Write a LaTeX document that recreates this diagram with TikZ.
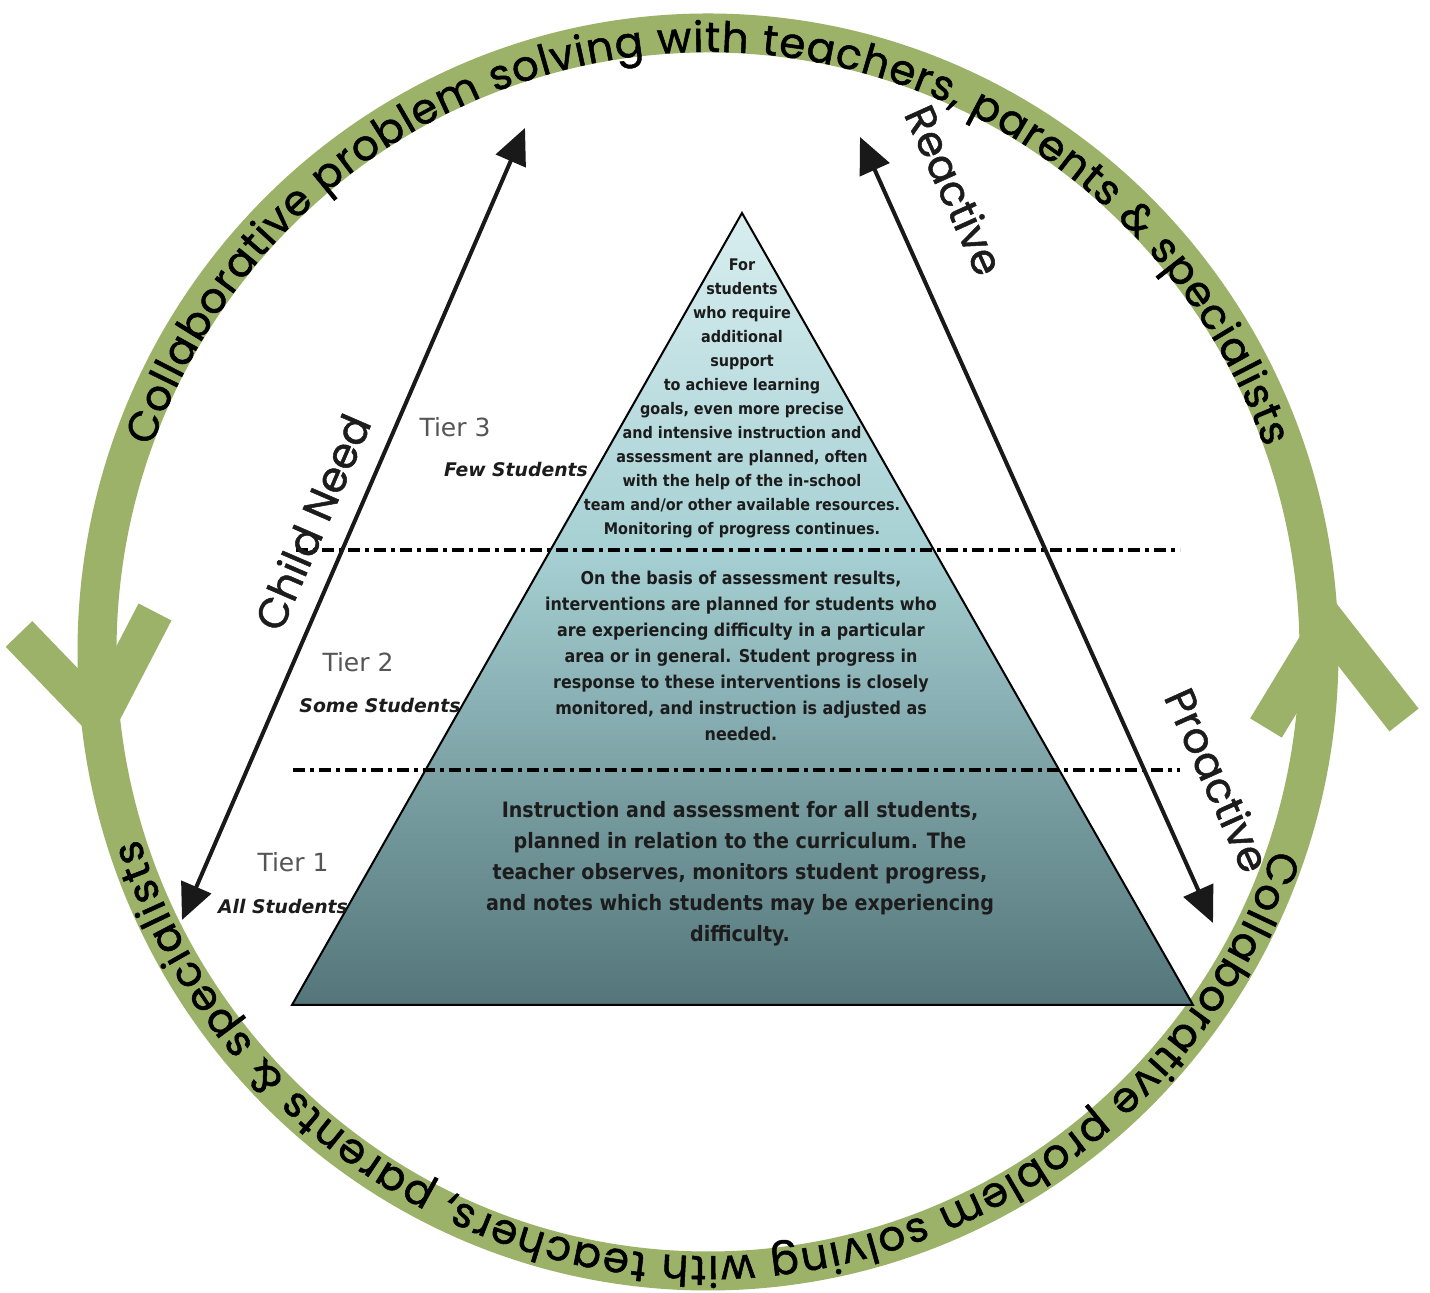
\documentclass[tikz,border=0pt]{standalone}
\usepackage{fontspec}
\usetikzlibrary{arrows.meta,decorations.text}
\newfontfamily\ringfont{Poppins}[FakeBold=1.2]
\newfontfamily\labelfont{DejaVu Sans}
\newfontfamily\bodyfont{DejaVu Sans Condensed Bold}

\definecolor{ringgreen}{RGB}{155,178,104}
\definecolor{pyrtop}{RGB}{216,238,240}
\definecolor{pyrmidA}{RGB}{166,208,211}
\definecolor{pyrmidB}{RGB}{124,162,166}
\definecolor{pyrbot}{RGB}{84,118,122}
\definecolor{tiergray}{RGB}{85,85,85}
\definecolor{inktext}{RGB}{28,28,28}

% vertical gradient of the pyramid (25bp..75bp spans the shape)
\pgfdeclareverticalshading{pyramidfade}{100bp}{%
  color(0bp)=(pyrbot); color(25bp)=(pyrbot);
  color(39.8bp)=(pyrmidB); color(53.7bp)=(pyrmidA);
  color(75bp)=(pyrtop); color(100bp)=(pyrtop)}

\tikzset{
  ring/.style={draw=ringgreen, line width=19.5pt},
  barb/.style={draw=ringgreen, line width=18.5pt, line join=miter, line cap=butt},
  needarrow/.style={draw=black!90, line width=2pt,
    {Triangle[length=18pt,width=16pt]}-{Triangle[length=18pt,width=16pt]}},
  tierline/.style={draw=black, line width=1.8pt,
    dash pattern=on 6pt off 2.5pt on 2pt off 2.5pt},
  tiername/.style={font=\labelfont\fontsize{12.5}{15}\selectfont, text=tiergray},
  tiergroup/.style={font=\labelfont\bfseries\itshape\fontsize{9.4}{11}\selectfont, text=inktext},
  sidelabel/.style={font=\ringfont\fontsize{21}{25}\selectfont, text=inktext},
  tierbody/.style={align=center, text=inktext, inner sep=0pt},
}

\begin{document}
\begin{tikzpicture}[x=0.5pt,y=0.5pt]
  \fill[white] (0,0) rectangle (1430,1293);
  \useasboundingbox (0,0) rectangle (1430,1293);

  % green cycle ring
  \coordinate (ringc) at (708,641);
  \draw[ring] (ringc) ellipse [x radius=611, y radius=619];

  % arrow barbs on the ring: down on the left, up on the right
  \coordinate (lbA) at (19,659);
  \coordinate (lbTip) at (100,575);
  \coordinate (lbB) at (155,681);
  \draw[barb] (lbA) -- (lbTip) -- (lbB);
  \coordinate (rbA) at (1266,565);
  \coordinate (rbTip) at (1329,669);
  \coordinate (rbB) at (1404,573);
  \draw[barb] (rbA) -- (rbTip) -- (rbB);

  % text running round the ring
  \path[decorate, decoration={text along path, text align=fit to path,
      text={|\ringfont\fontsize{21}{25}\selectfont|Collaborative problem solving with teachers, parents {\&} specialists}}]
    (ringc) ++(160:592 and 600) arc[start angle=160, end angle=20, x radius=592, y radius=600];
  \path[decorate, decoration={text along path, text align=fit to path,
      text={|\ringfont\fontsize{21}{25}\selectfont|Collaborative problem solving with teachers, parents {\&} specialists}}]
    (ringc) ++(-19:598 and 604) arc[start angle=-19, end angle=-162, x radius=598, y radius=604];

  % pyramid
  \coordinate (apex) at (742,1080);
  \coordinate (baseL) at (292,288);
  \coordinate (baseR) at (1193,288);
  \shade[shading=pyramidfade] (apex) -- (baseR) -- (baseL) -- cycle;
  \draw[black, line width=1pt, line join=miter] (apex) -- (baseR) -- (baseL) -- cycle;

  % tier boundaries
  \coordinate (t32L) at (296,743);
  \coordinate (t32R) at (1180,743);
  \coordinate (t21L) at (293,523);
  \coordinate (t21R) at (1180,523);
  \draw[tierline] (t32L) -- (t32R);
  \draw[tierline] (t21L) -- (t21R);

  % tier descriptions
  \node[tierbody, font=\bodyfont\fontsize{8}{12}\selectfont] (body3) at (742,895)
    {For\\students\\who require\\additional\\support\\to achieve learning\\goals, even more precise\\and intensive instruction and\\assessment are planned, often\\with the help of the in-school\\team and/or other available resources.\\Monitoring of progress continues.};
  \node[tierbody, font=\bodyfont\fontsize{8.85}{13}\selectfont] (body2) at (741,637)
    {On the basis of assessment results,\\interventions are planned for students who\\are experiencing difficulty in a particular\\area or in general. Student progress in\\response to these interventions is closely\\monitored, and instruction is adjusted as\\needed.};
  \node[tierbody, font=\bodyfont\fontsize{10.6}{15.5}\selectfont] (body1) at (740,419)
    {Instruction and assessment for all students,\\planned in relation to the curriculum. The\\teacher observes, monitors student progress,\\and notes which students may be experiencing\\difficulty.};

  % tier names
  \node[tiername] (tier3) at (455,866) {Tier 3};
  \node[tiergroup] (few) at (516,823) {Few Students};
  \node[tiername] (tier2) at (358,631) {Tier 2};
  \node[tiergroup] (some) at (380,587) {Some Students};
  \node[tiername] (tier1) at (293,431) {Tier 1};
  \node[tiergroup] (all) at (283,386) {All Students};

  % need axis and reactive/proactive axis
  \coordinate (needTop) at (525,1165);
  \coordinate (needBot) at (182,373);
  \draw[needarrow] (needBot) -- (needTop);
  \coordinate (respTop) at (860,1156);
  \coordinate (respBot) at (1213,370);
  \draw[needarrow] (respTop) -- (respBot);

  \node[sidelabel, rotate=66.6] (need) at (312,771) {Child Need};
  \node[sidelabel, rotate=-65.8] (reactive) at (955,1103) {Reactive};
  \node[sidelabel, rotate=-65.8] (proactive) at (1218,513) {Proactive};
\end{tikzpicture}
\end{document}
